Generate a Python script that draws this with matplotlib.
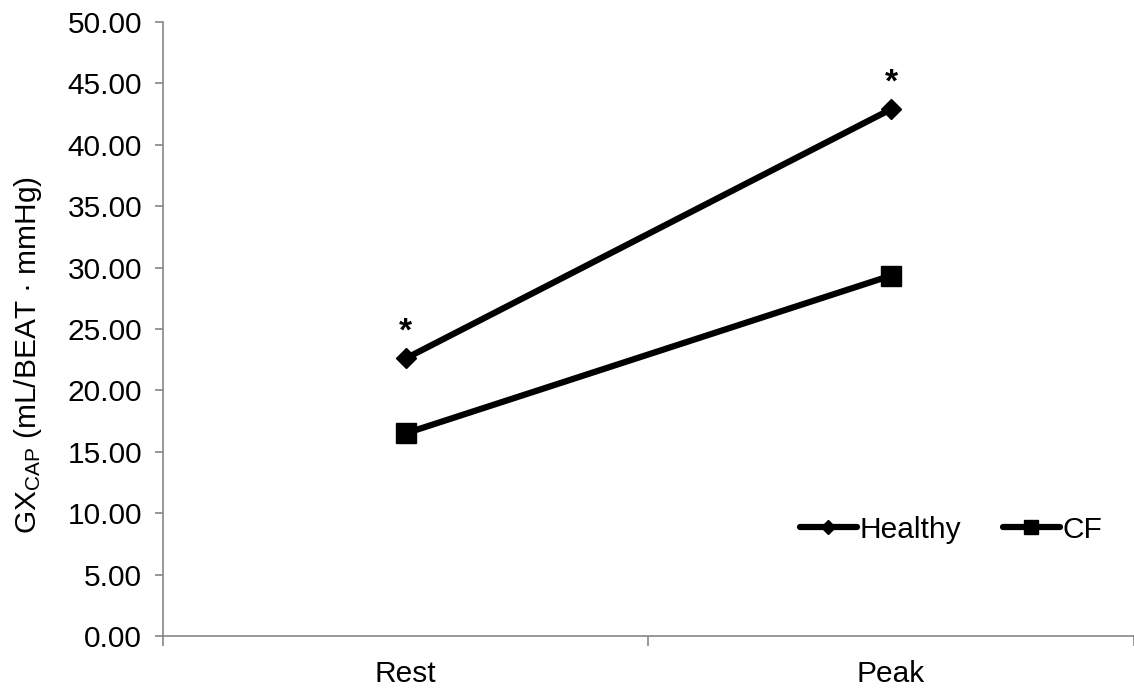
import matplotlib
matplotlib.use("Agg")
import matplotlib.pyplot as plt

plt.rcParams.update(
    {
        "font.family": ["Liberation Sans", "DejaVu Sans"],
        "font.size": 21.5,
        "mathtext.fontset": "custom",
        "mathtext.rm": "Liberation Sans",
        "mathtext.it": "Liberation Sans",
    }
)

categories = ["Rest", "Peak"]
healthy = [22.6, 42.9]
cf = [16.5, 29.35]
significant = ["*", "*"]
y_ticks = [0, 5, 10, 15, 20, 25, 30, 35, 40, 45, 50]

AXIS_GRAY = "#868686"

fig = plt.figure(figsize=(11.34, 6.89), dpi=100)
ax = fig.add_axes([0.1437, 0.077, 0.856, 0.891])

x = list(range(len(categories)))
ax.plot(x, healthy, color="black", linewidth=4.5, marker="D", markersize=10.5,
        solid_capstyle="round", label="Healthy")
ax.plot(x, cf, color="black", linewidth=4.5, marker="s", markersize=14,
        solid_capstyle="round", label="CF")

for xi, yi, mark in zip(x, healthy, significant):
    ax.annotate(mark, (xi, yi), xytext=(0, 8), textcoords="offset points",
                ha="center", va="bottom", fontsize=24, fontweight="bold")

ax.set_xlim(-0.5, len(categories) - 0.5)
ax.set_ylim(0, 50)
ax.set_yticks(y_ticks)
ax.set_yticklabels([f"{v:.2f}" for v in y_ticks])

# category boundaries carry the tick marks, labels sit between them
ax.set_xticks([i - 0.5 for i in range(len(categories) + 1)])
ax.set_xticklabels([])
ax.set_xticks(x, minor=True)
ax.set_xticklabels(categories, minor=True)
ax.tick_params(axis="x", which="minor", length=0, pad=17)
ax.tick_params(axis="x", which="major", length=7, color=AXIS_GRAY, width=1.2)
ax.tick_params(axis="y", length=6, color=AXIS_GRAY, width=1.2, pad=9)

for side in ("top", "right"):
    ax.spines[side].set_visible(False)
for side in ("left", "bottom"):
    ax.spines[side].set_color(AXIS_GRAY)
    ax.spines[side].set_linewidth(1.2)

ax.set_ylabel(r"GX$_{\mathregular{CAP}}$ (mL/BEAT · mmHg)", va="center")
ax.yaxis.set_label_coords(-0.139, 0.458)

ax.legend(loc="center right", bbox_to_anchor=(0.968, 0.173), ncol=2, frameon=False,
          handlelength=1.9, handletextpad=0.1, columnspacing=1.4, markerscale=0.7,
          borderpad=0, borderaxespad=0)

fig.savefig("out.png", dpi=100)
